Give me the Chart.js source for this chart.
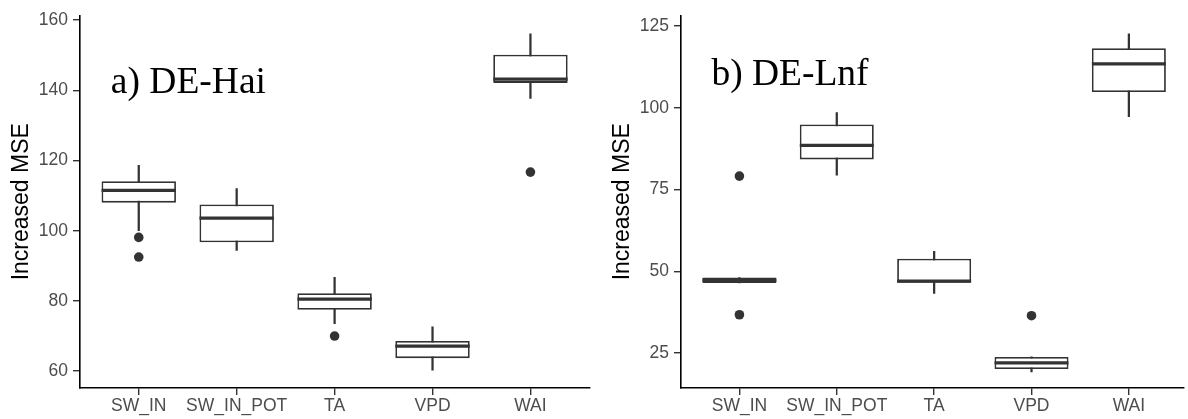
<!DOCTYPE html>
<html>
<head>
<meta charset="utf-8">
<script src="https://cdn.jsdelivr.net/npm/chart.js@4.4.0/dist/chart.umd.min.js"></script>
<style>
  html, body { margin: 0; padding: 0; background: #fff; }
  #wrap { position: relative; width: 1188px; height: 419px; overflow: hidden; }
  .panel { position: absolute; top: 0; }
</style>
</head>
<body>
<div id="wrap">
  <canvas id="haiChart" class="panel" style="left:0" width="594" height="419"></canvas>
  <canvas id="lnfChart" class="panel" style="left:594px" width="594" height="419"></canvas>
</div>
<script>
// Variables del modelo (eje x)
const variables = ['SW_IN', 'SW_IN_POT', 'TA', 'VPD', 'WAI'];

// ---- DE-Hai ----
const haiLower = [100.0, 94.4, 73.5, 60.3, 137.7];
const haiQ1 = [108.0, 96.7, 77.5, 63.7, 142.1];
const haiMedian = [111.5, 103.6, 80.5, 67.1, 143.2];
const haiQ3 = [114.1, 107.5, 82.2, 68.6, 150.1];
const haiUpper = [118.6, 112.0, 86.7, 72.6, 156.1];
const haiOutliers = [[98.1, 92.5], [], [70.0], [], [116.7]];
const haiTicks = [60, 80, 100, 120, 140, 160];

// ---- DE-Lnf ----
const lnfLower = [46.4, 79.4, 43.2, 19.2, 97.3];
const lnfQ1 = [46.4, 84.2, 46.5, 20.1, 104.8];
const lnfMedian = [47.25, 88.5, 47.0, 22.0, 113.4];
const lnfQ3 = [48.1, 94.9, 53.8, 23.8, 118.2];
const lnfUpper = [48.1, 98.5, 56.1, 23.8, 122.6];
const lnfOutliers = [[79.1, 36.7], [], [], [36.4], []];
const lnfTicks = [25, 50, 75, 100, 125];

const INK = '#333333';
Chart.defaults.font.family = "'Liberation Sans', Arial, sans-serif";

// Medianas y etiqueta del sitio, dibujadas sobre las cajas
const boxExtras = {
  id: 'boxExtras',
  afterDatasetsDraw(chart, args, opts) {
    const { ctx, scales: { x, y } } = chart;
    const boxes = chart.getDatasetMeta(0).data;
    ctx.save();
    ctx.strokeStyle = INK;
    ctx.lineWidth = 3.3;
    boxes.forEach((bar, i) => {
      const yy = y.getPixelForValue(opts.median[i]);
      ctx.beginPath();
      ctx.moveTo(bar.x - bar.width / 2, yy);
      ctx.lineTo(bar.x + bar.width / 2, yy);
      ctx.stroke();
    });
    ctx.fillStyle = '#000';
    ctx.font = "37.5px 'Liberation Serif', 'Times New Roman', serif";
    ctx.textBaseline = 'alphabetic';
    ctx.fillText(opts.label, x.getPixelForValue(opts.labelAt[0]), y.getPixelForValue(opts.labelAt[1]));
    ctx.restore();
  }
};

function buildPanel(canvas, p) {
  const idx = variables.map((_, i) => i);
  const outlierPts = [];
  p.outliers.forEach((vals, i) => vals.forEach(v => outlierPts.push({ x: i, y: v })));

  return new Chart(canvas, {
    type: 'bar',
    data: {
      datasets: [
        {
          label: 'caja',
          data: idx.map(i => ({ x: i, y: [p.q1[i], p.q3[i]] })),
          backgroundColor: '#ffffff',
          borderColor: INK,
          borderWidth: 1.8,
          borderSkipped: false,
          barPercentage: 0.76,
          categoryPercentage: 1,
          grouped: false,
          order: 2
        },
        {
          label: 'bigotes',
          data: idx.map(i => ({ x: i, y: [p.lower[i], p.upper[i]] })),
          backgroundColor: INK,
          borderWidth: 0,
          barThickness: 1.6,
          grouped: false,
          order: 3
        },
        {
          type: 'scatter',
          label: 'atípicos',
          data: outlierPts,
          pointRadius: 4.8,
          pointHoverRadius: 4.8,
          backgroundColor: INK,
          borderWidth: 0,
          order: 1
        }
      ]
    },
    options: {
      responsive: false,
      animation: false,
      layout: { padding: { top: 12, right: p.padRight, left: 0, bottom: 0 } },
      plugins: {
        legend: { display: false },
        tooltip: { enabled: false },
        boxExtras: { median: p.median, label: p.label, labelAt: p.labelAt }
      },
      scales: {
        x: {
          type: 'linear',
          min: -0.6,
          max: p.xMax,
          offset: false,
          afterBuildTicks: s => { s.ticks = idx.map(v => ({ value: v })); },
          afterFit: s => { s.height = 31; },
          ticks: {
            callback: v => variables[v],
            color: '#4d4d4d',
            font: { size: 17.5 },
            padding: 1,
            maxRotation: 0,
            autoSkip: false
          },
          grid: { drawOnChartArea: false, offset: false, tickLength: 7, color: INK, lineWidth: 1.4 },
          border: { color: '#000', width: 1.6 }
        },
        y: {
          min: p.yMin,
          max: p.yMax,
          afterBuildTicks: s => { s.ticks = p.ticks.map(v => ({ value: v })); },
          afterFit: s => { s.width = p.axisWidth; },
          ticks: { color: '#4d4d4d', font: { size: 17.5 }, padding: 5 },
          grid: { drawOnChartArea: false, tickLength: 7, color: INK, lineWidth: 1.4 },
          border: { color: '#000', width: 1.6 },
          title: {
            display: true,
            text: 'Increased MSE',
            color: '#000',
            font: { size: 23 },
            padding: { top: p.titlePad, bottom: 0 }
          }
        }
      }
    },
    plugins: [boxExtras]
  });
}

buildPanel(document.getElementById('haiChart'), {
  lower: haiLower, q1: haiQ1, median: haiMedian, q3: haiQ3, upper: haiUpper,
  outliers: haiOutliers, ticks: haiTicks,
  yMin: 55.2, yMax: 161.3, xMax: 4.6, axisWidth: 80, padRight: 4, titlePad: 8,
  label: 'a) DE-Hai', labelAt: [-0.285, 139.2]
});

buildPanel(document.getElementById('lnfChart'), {
  lower: lnfLower, q1: lnfQ1, median: lnfMedian, q3: lnfQ3, upper: lnfUpper,
  outliers: lnfOutliers, ticks: lnfTicks,
  yMin: 14.3, yMax: 128.2, xMax: 4.558, axisWidth: 87, padRight: 0, titlePad: 15,
  label: 'b) DE-Lnf', labelAt: [-0.288, 107.1]
});
</script>
</body>
</html>
